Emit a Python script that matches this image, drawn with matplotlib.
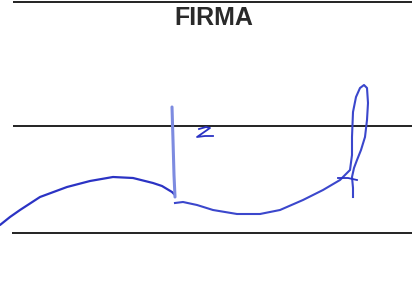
import numpy as np
import matplotlib.pyplot as plt

# ruled lines (y position in pixels, x start)
rule_y = [2, 126, 233]
rule_x0 = [13, 13, 12]

# signature strokes (x, y in pixels)
curve_x = [0, 10, 20, 40, 67, 90, 113, 133, 153, 162, 167, 172, 175]
curve_y = [225, 217, 210, 197, 187, 181, 177, 178, 183, 186, 189, 192, 195]

stem_x = [172, 173, 174, 175]
stem_y = [107, 140, 175, 197]

z_x = [199, 206, 210, 197, 205, 213]
z_y = [129, 127, 128, 137, 136, 136]

tail_x = [175, 183, 197, 213, 237, 260, 280, 303, 323, 340, 350, 352, 352, 353, 356, 360, 364, 367, 368, 367, 365, 361, 357, 354, 352, 353, 353]
tail_y = [203, 202, 205, 210, 214, 214, 210, 200, 190, 180, 170, 155, 137, 112, 97, 88, 85, 88, 103, 120, 137, 150, 160, 168, 177, 188, 197]

bar_x = [338, 348, 357]
bar_y = [178, 178, 180]

fig = plt.figure(figsize=(4.12, 2.97), dpi=100)
ax = fig.add_axes([0, 0, 1, 1])
ax.set_xlim(0, 412)
ax.set_ylim(297, 0)
ax.axis('off')

for y, x0 in zip(rule_y, rule_x0):
    ax.plot([x0, 412], [y, y], color='#111111', lw=1.3, solid_capstyle='butt')

ax.text(214, 18, 'FIRMA', ha='center', va='center', fontsize=18,
        fontweight='bold', family='Liberation Sans', color='#2a2a2a')

ax.plot(curve_x, curve_y, color='#2b33c4', lw=1.6, solid_capstyle='round', solid_joinstyle='round')
ax.plot(stem_x, stem_y, color='#7d8be0', lw=2.2, solid_capstyle='round')
ax.plot(z_x, z_y, color='#2b33c4', lw=1.3, solid_joinstyle='round')
ax.plot(tail_x, tail_y, color='#3b47cc', lw=1.5, solid_joinstyle='round')
ax.plot(bar_x, bar_y, color='#2b33c4', lw=1.3)

fig.savefig('out.png', dpi=100)
